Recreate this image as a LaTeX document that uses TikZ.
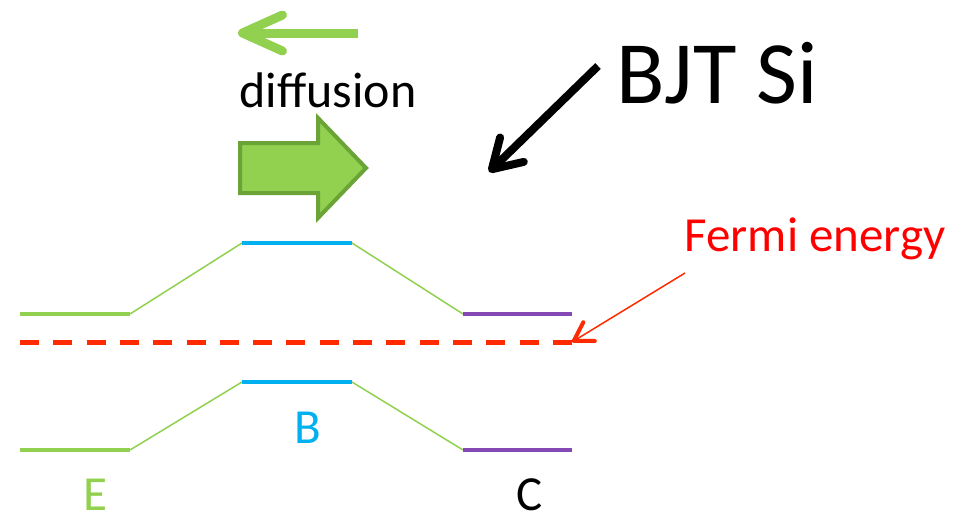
\documentclass[tikz,border=0pt]{standalone}
\usepackage{fontspec}
\setmainfont{Carlito}
\usetikzlibrary{arrows.meta}
\definecolor{lgreen}{HTML}{92D050}
\definecolor{dgreen}{HTML}{6AA336}
\definecolor{bcyan}{HTML}{00B0F0}
\definecolor{cpurple}{HTML}{8549B5}
\definecolor{fred}{HTML}{FF2A00}
\begin{document}
\begin{tikzpicture}[x=1pt,y=-1pt,
  level/.style={line width=4.5pt},
  slant/.style={line width=1.5pt, lgreen},
  lbl/.style={font=\fontsize{49}{52}\selectfont, inner sep=0pt, anchor=base}]
\useasboundingbox (0,0) rectangle (956,531);
% texts
\node[lbl, font=\fontsize{50}{54}\selectfont] (diff) at (328,107) {diffusion};
\node[lbl, font=\fontsize{89}{92}\selectfont, anchor=base west] (bjt) at (616,103) {BJT Si};
\node[lbl, text=red] (fermi) at (815,251) {Fermi energy};
\node[lbl, lgreen] (E) at (95,510) {E};
\node[lbl, bcyan] (B) at (308,443) {B};
\node[lbl, black] (C) at (530,510) {C};
% level coordinates
\coordinate (e1a) at (20,314); \coordinate (e1b) at (130,314);
\coordinate (b1a) at (242,243); \coordinate (b1b) at (352,243);
\coordinate (c1a) at (463,314); \coordinate (c1b) at (572,314);
\coordinate (e2a) at (20,450); \coordinate (e2b) at (130,450);
\coordinate (b2a) at (242,382); \coordinate (b2b) at (352,382);
\coordinate (c2a) at (463,450); \coordinate (c2b) at (572,450);
\coordinate (fa) at (20,342); \coordinate (fb) at (572,342);
% slants
\draw[slant] (e1b) -- (b1a); \draw[slant] (b1b) -- (c1a);
\draw[slant] (e2b) -- (b2a); \draw[slant] (b2b) -- (c2a);
% levels
\draw[level, lgreen] (e1a) -- (e1b); \draw[level, bcyan] (b1a) -- (b1b); \draw[level, cpurple] (c1a) -- (c1b);
\draw[level, lgreen] (e2a) -- (e2b); \draw[level, bcyan] (b2a) -- (b2b); \draw[level, cpurple] (c2a) -- (c2b);
% Fermi dashed
\draw[fred, line width=5pt, dash pattern=on 19pt off 14.3pt] (fa) -- (fb);
% Fermi arrow
\coordinate (fs) at (685,273);
\draw[fred, line width=1.5pt, -{Straight Barb[length=18pt, width=22pt, line width=4pt, round]}] (fs) -- (fb);
% BJT arrow
\coordinate (bs) at (598,66); \coordinate (be) at (489,172);
\draw[black, line width=8pt, -{Straight Barb[length=28pt, width=34pt, round]}] (bs) -- (be);
% top thin green arrow
\coordinate (gs) at (358,33); \coordinate (ge) at (238,33);
\draw[lgreen, line width=9pt, -{Straight Barb[length=40pt, width=36pt, round]}] (gs) -- (ge);
% block arrow
\draw[fill=lgreen, draw=dgreen, line width=4pt, line join=miter]
  (240,143) -- (318,143) -- (318,118) -- (366,168) -- (318,218) -- (318,193) -- (240,193) -- cycle;
\end{tikzpicture}
\end{document}
